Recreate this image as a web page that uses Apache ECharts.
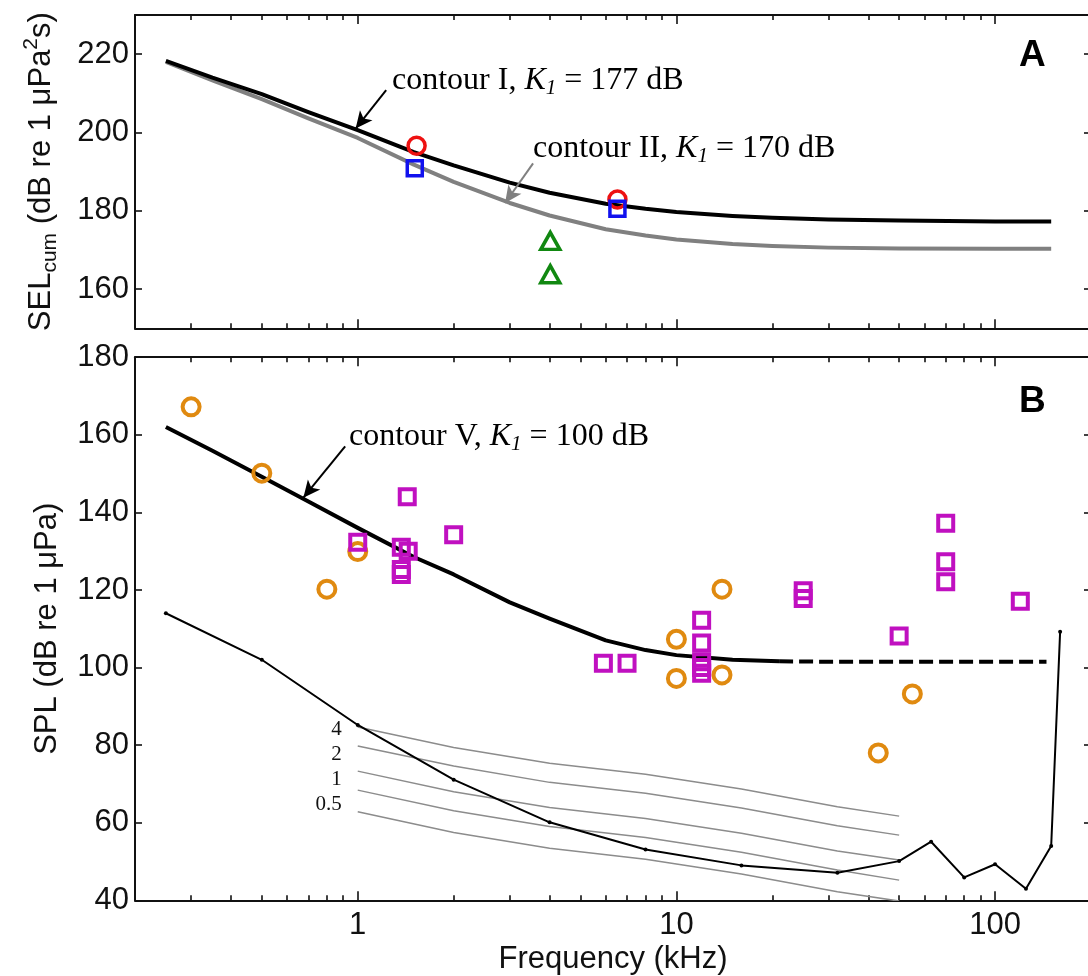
<!DOCTYPE html>
<html><head><meta charset="utf-8">
<script src="https://cdn.jsdelivr.net/npm/echarts@6/dist/echarts.min.js"></script>
<style>html,body{margin:0;padding:0;background:#fff}#c{width:1088px;height:976px}</style>
</head><body><div id="c"></div>
<script>
// ---------- Panel A data ----------
const contourX_A = [0.25, 0.35, 0.5, 0.7, 1, 1.5, 2, 3, 4, 6, 8, 10, 15, 20, 30, 50, 100, 150];
const contourI   = [218.3, 214.0, 209.8, 205.2, 200.6, 195.0, 191.6, 187.2, 184.6, 181.8, 180.5, 179.7, 178.7, 178.2, 177.8, 177.5, 177.3, 177.3];
const contourII  = [218.0, 213.3, 208.5, 203.6, 198.6, 191.8, 187.4, 182.0, 178.8, 175.3, 173.7, 172.7, 171.5, 171.0, 170.6, 170.4, 170.3, 170.3];
const redX = [1.53, 6.53],  redY = [196.6, 182.9];
const blueX = [1.51, 6.53], blueY = [190.9, 180.5];
const greenX = [4.02, 4.02], greenY = [172.3, 163.8];

// ---------- Panel B data ----------
const contourVX     = [0.25, 0.35, 0.5, 0.7, 1, 1.5, 2, 3, 4, 6, 8, 10, 15, 21];
const contourV      = [162.0, 155.9, 149.2, 142.8, 136.0, 128.5, 124.0, 116.8, 112.6, 107.0, 104.5, 103.2, 102.0, 101.6];
const contourVDashX = [21, 30, 50, 100, 145];
const contourVDash  = [101.6, 101.5, 101.5, 101.5, 101.5];
const audioX = [0.25, 0.5, 1, 2, 4, 8, 16, 32, 50, 63, 80, 100, 125, 150, 160];
const audioY = [114, 102, 85.2, 71.1, 60.1, 53.1, 49.0, 47.1, 50.1, 55.1, 45.9, 49.3, 43.0, 54.0, 109.2];
const grayX = [1, 2, 4, 8, 16, 32, 50];
const gray4   = [84.7, 79.4, 75.3, 72.5, 68.7, 64.1, 61.7];
const gray2   = [79.8, 74.6, 70.4, 67.6, 63.8, 59.2, 56.8];
const gray1   = [73.3, 68.0, 63.9, 61.1, 57.3, 52.7, 50.4];
const gray05  = [68.4, 63.1, 59.0, 56.2, 52.4, 47.8, 45.2];
const gray025 = [62.8, 57.5, 53.4, 50.6, 46.8, 42.2, 39.8];
const grayLabels = ['4', '2', '1', '0.5', ''];
const orangeX = [0.3, 0.5, 0.8, 1, 10, 10, 13.9, 13.9, 43, 55];
const orangeY = [167.2, 150.1, 120.2, 129.9, 107.3, 97.2, 120.2, 98.1, 78.0, 93.2];
const magentaX = [1, 1.43, 1.37, 1.44, 1.37, 1.37, 2, 5.9, 7.0, 12, 12, 12, 12, 12, 25, 25, 50, 70, 70, 70, 120];
const magentaY = [132.3, 144.0, 131.0, 130.0, 125.3, 124.0, 134.2, 101.1, 101.1, 112.2, 106.3, 101.5, 100.0, 98.5, 119.8, 117.8, 108.1, 137.2, 127.3, 122.1, 117.1];

// ---------- axes ticks ----------
const xMin = 0.2, xMax = 200;
const xMajorTicks = [1, 10, 100];
const xMinorTicks = [0.3, 0.4, 0.5, 0.6, 0.7, 0.8, 0.9, 2, 3, 4, 5, 6, 7, 8, 9, 20, 30, 40, 50, 60, 70, 80, 90];
const xTickLabels = [1, 10, 100];
const yTicksA = [160, 180, 200, 220];
const yTicksB = [40, 60, 80, 100, 120, 140, 160, 180];

// ---------- annotations (data coords) ----------
const arrowI  = [[1.228, 210.8], [0.985, 201.0]];
const arrowII = [[3.55, 192.1], [2.90, 182.0]];
const arrowV  = [[0.913, 157.0], [0.675, 143.8]];

const zip = (xs, ys) => xs.map((x, i) => [x, ys[i]]);
const SANS = 'Liberation Sans, Arial, sans-serif';
const SERIF = 'Liberation Serif, Times New Roman, serif';
const INK = '#111';
const grayLabelShift = [3, 8.5, 8, 14, 0]; // layout: vertical nudge of the small curve labels (px)

function xAx(grid, pos, ticks, len, opts) {
  opts = opts || {};
  return Object.assign({
    type: 'log', logBase: 10, min: xMin, max: xMax, gridIndex: grid, position: pos,
    axisLine: {show: !!opts.line, onZero: false, lineStyle: {color: INK, width: 2}},
    axisTick: {show: true, inside: true, length: len, customValues: ticks, lineStyle: {color: INK, width: 1.6}},
    axisLabel: {show: false},
    splitLine: {show: false}, minorTick: {show: false}, minorSplitLine: {show: false}
  }, opts.extra || {});
}
function yAx(grid, pos, min, max, ticks, label, extra) {
  return Object.assign({
    type: 'value', min: min, max: max, gridIndex: grid, position: pos,
    axisLine: {show: true, onZero: false, lineStyle: {color: INK, width: 2}},
    axisTick: {show: true, inside: true, length: 7, customValues: ticks, lineStyle: {color: INK, width: 1.6}},
    axisLabel: label ? {show: true, customValues: ticks, color: INK, fontFamily: SANS, fontSize: 31, margin: 6,
                        showMinLabel: true, showMaxLabel: true, hideOverlap: false} : {show: false},
    splitLine: {show: false}
  }, extra || {});
}

const xAxes = [
  xAx(0, 'bottom', xMajorTicks, 9, {line: true}),
  xAx(0, 'bottom', xMinorTicks, 5),
  xAx(0, 'top', xMajorTicks, 9, {line: true}),
  xAx(0, 'top', xMinorTicks, 5),
  xAx(1, 'bottom', xMajorTicks, 9, {line: true, extra: {
    axisLabel: {show: true, customValues: xTickLabels, formatter: v => String(Math.round(v)), color: INK,
                fontFamily: SANS, fontSize: 31, margin: 10, hideOverlap: false},
    name: 'Frequency (kHz)', nameLocation: 'middle', nameGap: 44, nameMoveOverlap: false,
    nameTextStyle: {color: INK, fontFamily: SANS, fontSize: 31}
  }}),
  xAx(1, 'bottom', xMinorTicks, 5),
  xAx(1, 'top', xMajorTicks, 9, {line: true}),
  xAx(1, 'top', xMinorTicks, 5)
];
const yAxes = [
  yAx(0, 'left', 150, 230, yTicksA, true, {
    name: '{m|SEL}{s|cum}{m| (dB re 1 μPa}{p|2}{m|s)}', nameLocation: 'middle', nameGap: 74, nameMoveOverlap: false,
    nameTextStyle: {color: INK, rich: {
      m: {fontFamily: SANS, fontSize: 31, lineHeight: 40, color: INK},
      s: {fontFamily: SANS, fontSize: 21, lineHeight: 21, verticalAlign: 'bottom', color: INK},
      p: {fontFamily: SANS, fontSize: 21, lineHeight: 21, verticalAlign: 'top', color: INK}
    }}
  }),
  yAx(0, 'right', 150, 230, yTicksA, false),
  yAx(1, 'left', 40, 180, yTicksB, true, {
    name: 'SPL (dB re 1 μPa)', nameLocation: 'middle', nameGap: 72, nameMoveOverlap: false,
    nameTextStyle: {color: INK, fontFamily: SANS, fontSize: 31}
  }),
  yAx(1, 'right', 40, 180, yTicksB, false)
];

function arrow(pts, color) {
  return {
    silent: true, symbol: ['none', 'arrow'], symbolSize: [12, 17], animation: false,
    label: {show: false}, emphasis: {disabled: true},
    lineStyle: {color: color, width: 2, type: 'solid', opacity: 1},
    itemStyle: {color: color},
    data: [[{coord: pts[0]}, {coord: pts[1]}]]
  };
}
function openMarks(name, xi, yi, xs, ys, symbol, size, color, bw) {
  return {
    name: name, type: 'scatter', xAxisIndex: xi, yAxisIndex: yi, data: zip(xs, ys),
    symbol: symbol, symbolSize: size, z: 5, silent: true,
    itemStyle: {color: 'rgba(0,0,0,0)', borderColor: color, borderWidth: bw, opacity: 1}
  };
}
const grayData = [gray4, gray2, gray1, gray05, gray025];
const graySeries = grayData.map((ys, k) => ({
  type: 'line', xAxisIndex: 4, yAxisIndex: 2, showSymbol: true, symbol: 'circle', symbolSize: 0.01, silent: true, z: 1,
  itemStyle: {color: 'rgba(0,0,0,0)'},
  lineStyle: {color: '#8c8c8c', width: 1.5},
  data: zip(grayX, ys).map((p, i) => i === 0 && grayLabels[k] ? {
    value: p, label: {show: true, formatter: grayLabels[k], position: 'left', distance: 16, offset: [0, grayLabelShift[k]],
                      color: INK, fontFamily: SERIF, fontSize: 21}
  } : p),
  label: {show: false}
}));

const option = {
  animation: false,
  backgroundColor: '#fff',
  grid: [
    {left: 135, top: 15, width: 956, height: 313.3, outerBoundsMode: 'none', containLabel: false},
    {left: 135, top: 357.2, width: 956, height: 543.1, outerBoundsMode: 'none', containLabel: false}
  ],
  xAxis: xAxes,
  yAxis: yAxes,
  series: [
    {name: 'contour II', type: 'line', xAxisIndex: 0, yAxisIndex: 0, data: zip(contourX_A, contourII),
     showSymbol: false, symbol: 'none', smooth: false, z: 2, silent: true,
     lineStyle: {color: '#808080', width: 4, join: 'round'}, markLine: arrow(arrowII, '#808080')},
    {name: 'contour I', type: 'line', xAxisIndex: 0, yAxisIndex: 0, data: zip(contourX_A, contourI),
     showSymbol: false, symbol: 'none', smooth: false, z: 3, silent: true,
     lineStyle: {color: '#000', width: 4, join: 'round'}, markLine: arrow(arrowI, '#000')},
    openMarks('red', 0, 0, redX, redY, 'circle', 17, '#ee1111', 3.5),
    openMarks('blue', 0, 0, blueX, blueY, 'rect', 15, '#1111ee', 3.5),
    openMarks('green', 0, 0, greenX, greenY, 'triangle', [19, 17], '#118811', 3.5),
    ...graySeries,
    {name: 'audiogram', type: 'line', xAxisIndex: 4, yAxisIndex: 2, data: zip(audioX, audioY),
     symbol: 'circle', symbolSize: 4, showSymbol: true, z: 3, silent: true,
     itemStyle: {color: '#000'}, lineStyle: {color: '#000', width: 2}},
    {name: 'contour V', type: 'line', xAxisIndex: 4, yAxisIndex: 2, data: zip(contourVX, contourV),
     showSymbol: false, symbol: 'none', smooth: false, z: 3, silent: true,
     lineStyle: {color: '#000', width: 4, join: 'round'}, markLine: arrow(arrowV, '#000')},
    {name: 'contour V ext', type: 'line', xAxisIndex: 4, yAxisIndex: 2, data: zip(contourVDashX, contourVDash),
     showSymbol: false, symbol: 'none', z: 3, silent: true,
     lineStyle: {color: '#000', width: 4, type: [14, 6]}},
    openMarks('orange', 4, 2, orangeX, orangeY, 'circle', 17, '#e08a10', 4),
    openMarks('magenta', 4, 2, magentaX, magentaY, 'rect', 15, '#c010c0', 4)
  ],
  graphic: [
    {type: 'text', left: 1019, top: 37, style: {text: 'A', fill: '#000', font: 'bold 37px ' + SANS}},
    {type: 'text', left: 1019, top: 383, style: {text: 'B', fill: '#000', font: 'bold 37px ' + SANS}},
    {type: 'text', x: 392, y: 63, style: {text: '{a|contour I, }{k|K}{s|1}{a| = 177 dB}', rich: richT()}},
    {type: 'text', x: 533, y: 131, style: {text: '{a|contour II, }{k|K}{s|1}{a| = 170 dB}', rich: richT()}},
    {type: 'text', x: 349, y: 419, style: {text: '{a|contour V, }{k|K}{s|1}{a| = 100 dB}', rich: richT()}}
  ]
};
function richT() {
  return {
    a: {fontFamily: SERIF, fontSize: 32, lineHeight: 36, fill: '#000', color: '#000'},
    k: {fontFamily: SERIF, fontSize: 32, lineHeight: 36, fontStyle: 'italic', fill: '#000', color: '#000'},
    s: {fontFamily: SERIF, fontSize: 21, lineHeight: 22, fontStyle: 'italic', verticalAlign: 'bottom', fill: '#000', color: '#000'}
  };
}
const chart = echarts.init(document.getElementById('c'), null, {renderer: 'canvas', width: 1088, height: 976});
chart.setOption(option);
</script>
</body></html>
